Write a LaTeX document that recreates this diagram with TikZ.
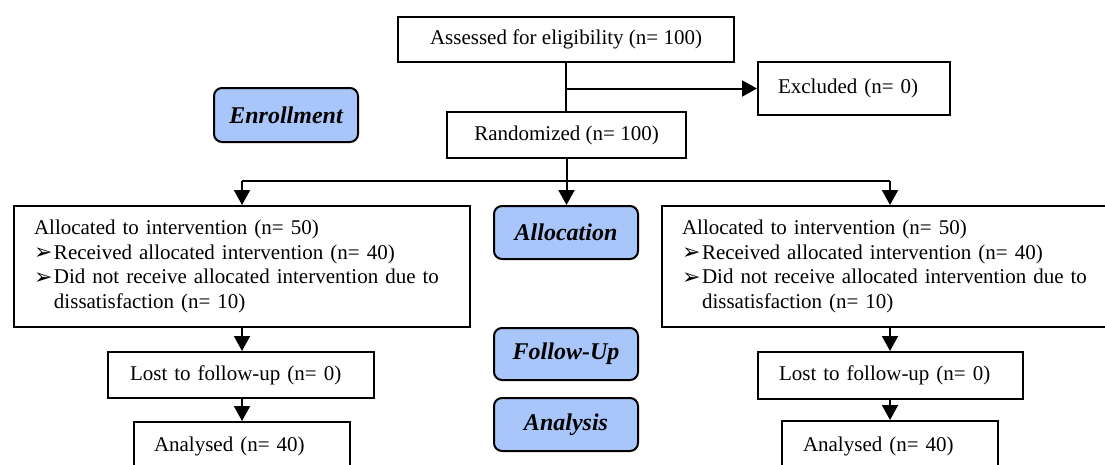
\documentclass[tikz,border=0pt]{standalone}
\usepackage{fontspec}
\setmainfont{Liberation Serif}
\newfontfamily\dejavu{DejaVu Sans}
\usetikzlibrary{arrows.meta}
\definecolor{phase}{HTML}{A8C6FA}
\newcommand{\bul}{\makebox[20pt][l]{\raisebox{-0.5pt}{\dejavu\fontsize{22}{20}\selectfont ➢}}}
\begin{document}
\begin{tikzpicture}[x=1pt,y=-1pt,
  box/.style={draw, line width=2pt, anchor=north west, inner ysep=0pt, font=\fontsize{21}{24.7}\selectfont},
  phasebox/.style={draw, line width=2pt, fill=phase, rounded corners=8pt, anchor=north west,
    minimum width=144pt, inner sep=0pt, font=\fontsize{24}{28}\selectfont\bfseries\itshape},
  conn/.style={line width=2pt},
  arr/.style={conn, -{Triangle[width=16pt,length=15pt]}}
]
\useasboundingbox (0,0) rectangle (1105,464);

% main column
\node[box, minimum width=336pt, minimum height=45pt, align=center] (assess) at (397,16) {Assessed for eligibility (n= 100)};
\node[box, minimum width=192pt, minimum height=53pt, text width=152pt, inner xsep=20pt, align=left] (excl) at (757,61) {Excluded (n= 0)};
\node[box, minimum width=239pt, minimum height=46pt, align=center] (rand) at (446,111) {Randomized (n= 100)};

% phase labels
\node[phasebox, minimum height=54pt] (enrol) at (213,87) {Enrollment};
\node[phasebox, minimum height=53pt] (allocph) at (493,205) {Allocation};
\node[phasebox, minimum height=52pt] (follph) at (493,327) {Follow-Up};
\node[phasebox, minimum height=53pt] (anaph) at (493,397) {Analysis};

% allocation boxes
\node[box, minimum width=456pt, minimum height=121pt, text width=416pt, inner xsep=20pt, align=left] (allocL) at (13,205)
  {Allocated to intervention (n= 50)\\
   \bul Received allocated intervention (n= 40)\\
   \bul Did not receive allocated intervention due to\\
   \hspace*{20pt}dissatisfaction (n= 10)};
\node[box, minimum width=456pt, minimum height=121pt, text width=416pt, inner xsep=20pt, align=left] (allocR) at (661,205)
  {Allocated to intervention (n= 50)\\
   \bul Received allocated intervention (n= 40)\\
   \bul Did not receive allocated intervention due to\\
   \hspace*{20pt}dissatisfaction (n= 10)};

% follow-up boxes
\node[box, minimum width=266pt, minimum height=46pt, text width=222pt, inner xsep=22pt, align=left] (lostL) at (107,351) {Lost to follow-up (n= 0)};
\node[box, minimum width=265pt, minimum height=47pt, text width=223pt, inner xsep=21pt, align=left] (lostR) at (757,351) {Lost to follow-up (n= 0)};

% analysis boxes
\node[box, minimum width=216pt, minimum height=48pt, text width=176pt, inner xsep=20pt, align=left] (anL) at (133,421) {Analysed (n= 40)};
\node[box, minimum width=216pt, minimum height=50pt, text width=174pt, inner xsep=21pt, align=left] (anR) at (781,420) {Analysed (n= 40)};

% connectors
\coordinate (exbranch) at (assess.south |- excl.west);
\coordinate (split) at (rand.south |- 0,181);
\coordinate (splitL) at (allocL.north |- split);
\coordinate (splitR) at (allocR.north |- split);

\draw[conn] (assess.south) -- (assess.south |- rand.north);
\draw[arr] (exbranch) -- (excl.west);
\draw[arr] (rand.south) -- (rand.south |- allocph.north);
\draw[conn] (splitL) -- (splitR);
\draw[arr] (splitL) -- (allocL.north);
\draw[arr] (splitR) -- (allocR.north);
\draw[arr] (allocL.south) -- (allocL.south |- lostL.north);
\draw[arr] (allocR.south) -- (allocR.south |- lostR.north);
\draw[arr] (lostL.south -| allocL.south) -- (allocL.south |- anL.north);
\draw[arr] (lostR.south -| allocR.south) -- (allocR.south |- anR.north);
\end{tikzpicture}
\end{document}
